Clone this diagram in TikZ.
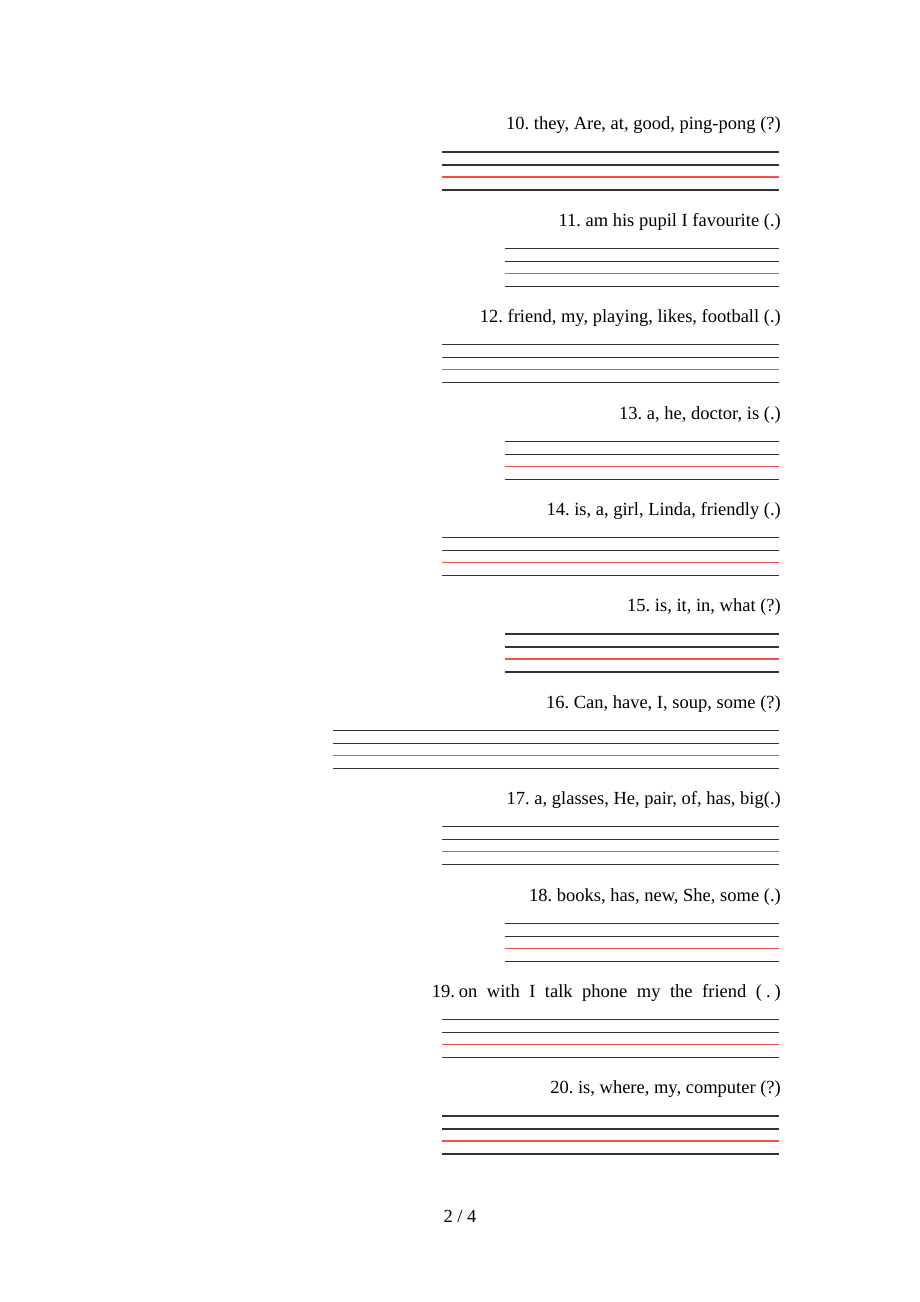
\documentclass[tikz,border=0pt]{standalone}
\usepackage{fontspec}
\setmainfont{Liberation Serif}
\usepackage{xcolor}
\definecolor{redline}{HTML}{F0504A}
\definecolor{darkline}{HTML}{333333}
\frenchspacing

\tikzset{
  task/.style={anchor=east, inner sep=0pt, font=\fontsize{18.5}{22}\selectfont},
  darkrule/.style={line width=1.3pt, darkline},
  redrule/.style={line width=1.3pt, redline}
}

\begin{document}
\begin{tikzpicture}[x=1pt,y=-1pt]
\useasboundingbox[fill=white] (0,0) rectangle (920,1302);
% questions
\node[task] (q10) at (781,125.5) {10. they, Are, at, good, ping-pong (?)};
\node[task] (q11) at (781,221.9) {11. am his pupil I favourite (.)};
\node[task] (q12) at (781,318.3) {12. friend, my, playing, likes, football (.)};
\node[task] (q13) at (781,414.7) {13. a, he, doctor, is (.)};
\node[task] (q14) at (781,511.1) {14. is, a, girl, Linda, friendly (.)};
\node[task] (q15) at (781,607.5) {15. is, it, in, what (?)};
\node[task] (q16) at (781,703.9) {16. Can, have, I, soup, some (?)};
\node[task] (q17) at (781,800.3) {17. a, glasses, He, pair, of, has, big(.)};
\node[task] (q18) at (781,896.7) {18. books, has, new, She, some (.)};
\node[task] (q19) at (781,993.1) {\makebox[349pt][s]{19.\hspace{4pt}on with I talk phone my the friend (\hspace{4pt}.\hspace{4pt})}};
\node[task] (q20) at (781,1089.5) {20. is, where, my, computer (?)};
% writing lines
\foreach \l [count=\i from 0] in {442,505,442,505,442,505,333,442,505,442,442}{
  \pgfmathsetmacro{\y}{124+96.4*\i}
  \draw[darkrule] (\l,\y+28) -- (779,\y+28);
  \draw[darkrule] (\l,\y+41) -- (779,\y+41);
  \draw[redrule] (\l,\y+53) -- (779,\y+53);
  \draw[darkrule] (\l,\y+66) -- (779,\y+66);
}
% page number
\node[task, anchor=center] (page) at (460,1216) {2 / 4};
\end{tikzpicture}
\end{document}
